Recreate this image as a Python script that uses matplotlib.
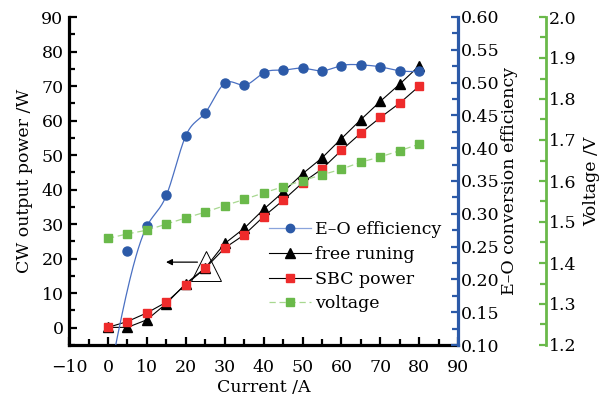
import numpy as np
import matplotlib
matplotlib.use("Agg")
import matplotlib.pyplot as plt
from matplotlib.ticker import MultipleLocator

# data
current = [0, 5, 10, 15, 20, 25, 30, 35, 40, 45, 50, 55, 60, 65, 70, 75, 80]
free_running = [0.1, 0.1, 2.3, 7.0, 12.8, 17.3, 24.4, 28.8, 34.3, 39.3, 44.6,
                49.2, 54.8, 60.3, 65.6, 70.6, 75.9]
sbc_power = [0.1, 1.8, 4.3, 7.4, 12.5, 17.2, 23.1, 26.9, 32.2, 36.9, 42.0,
             46.0, 51.4, 56.4, 60.9, 65.1, 70.0]
voltage = [1.460, 1.471, 1.480, 1.495, 1.510, 1.524, 1.540, 1.555, 1.571,
           1.586, 1.601, 1.615, 1.629, 1.646, 1.659, 1.674, 1.690]
eff_current = [5, 10, 15, 20, 25, 30, 35, 40, 45, 50, 55, 60, 65, 70, 75, 80]
efficiency = [0.244, 0.281, 0.328, 0.419, 0.454, 0.499, 0.496, 0.515, 0.519,
              0.522, 0.518, 0.526, 0.527, 0.524, 0.518, 0.517]
# start point of the smoothed efficiency curve (it skips the 5 A point)
curve_start = (0, 0.04)

BLUE = '#2c5aa8'
RED = '#ee2b2b'
GREEN = '#6ab94a'

plt.rcParams['font.family'] = 'DejaVu Serif'
plt.rcParams['font.size'] = 12.5
plt.rcParams['mathtext.fontset'] = 'dejavuserif'


def natural_spline(x, y, xs):
    x = np.asarray(x, float)
    y = np.asarray(y, float)
    n = len(x)
    h = np.diff(x)
    A = np.zeros((n, n))
    b = np.zeros(n)
    A[0, 0] = A[-1, -1] = 1
    for i in range(1, n - 1):
        A[i, i - 1] = h[i - 1]
        A[i, i] = 2 * (h[i - 1] + h[i])
        A[i, i + 1] = h[i]
        b[i] = 6 * ((y[i + 1] - y[i]) / h[i] - (y[i] - y[i - 1]) / h[i - 1])
    M = np.linalg.solve(A, b)
    idx = np.clip(np.searchsorted(x, xs) - 1, 0, n - 2)
    x0, x1 = x[idx], x[idx + 1]
    hh = x1 - x0
    t0 = x1 - xs
    t1 = xs - x0
    return (M[idx] * t0**3 / (6 * hh) + M[idx + 1] * t1**3 / (6 * hh)
            + (y[idx] / hh - M[idx] * hh / 6) * t0
            + (y[idx + 1] / hh - M[idx + 1] * hh / 6) * t1)


fig = plt.figure(figsize=(6.11, 4.0), dpi=100)
ax = fig.add_axes([0.113, 0.1375, 0.637, 0.82])
ax2 = ax.twinx()
ax3 = ax.twinx()
ax3.spines['right'].set_position(('axes', 1.226))

# power curves
l_free, = ax.plot(current, free_running, color='black', lw=0.8, marker='^',
                  ms=7.5, mfc='black', mec='black', label='free runing')
l_sbc, = ax.plot(current, sbc_power, color='black', lw=0.8, marker='s',
                 ms=5.5, mfc=RED, mec=RED, label='SBC power')

# annotation: big hollow triangle + arrow pointing to left axis
ax.plot([25.1], [18], marker='^', ms=22, mfc='none', mec='black', mew=0.7)
ax.annotate('', xy=(14.2, 19), xytext=(23.7, 19),
            arrowprops=dict(arrowstyle='-|>', color='black', lw=0.9,
                            mutation_scale=9))

# efficiency
cx = [curve_start[0]] + eff_current[1:]
cy = [curve_start[1]] + efficiency[1:]
xs = np.linspace(cx[0], cx[-1], 400)
ax2.plot(xs, natural_spline(cx, cy, xs), color='#4a70c2', lw=0.9)
ax2.plot(eff_current, efficiency, ls='none', marker='o', ms=6.5,
         mfc=BLUE, mec=BLUE)
l_eff, = ax2.plot([], [], color='#8aa4dc', lw=0.9, marker='o', ms=6,
                  mfc=BLUE, mec=BLUE, label='E\u2013O efficiency')

# voltage
l_volt, = ax3.plot(current, voltage, color='#a8d890', lw=0.9, ls=(0, (5, 3)),
                   marker='s', ms=5.5, mfc=GREEN, mec=GREEN, label='voltage')

ax.set_xlim(-10, 90)
ax.set_ylim(-5, 90)
ax2.set_ylim(0.10, 0.60)
ax3.set_ylim(1.2, 2.0)

ax.xaxis.set_major_locator(MultipleLocator(10))
ax.xaxis.set_minor_locator(MultipleLocator(5))
ax.yaxis.set_major_locator(MultipleLocator(10))
ax.yaxis.set_minor_locator(MultipleLocator(5))
ax2.yaxis.set_major_locator(MultipleLocator(0.05))
ax2.yaxis.set_minor_locator(MultipleLocator(0.025))
ax3.yaxis.set_major_locator(MultipleLocator(0.1))
ax3.yaxis.set_minor_locator(MultipleLocator(0.05))
ax.set_yticks(range(0, 91, 10))
ax2.yaxis.set_major_formatter(plt.FormatStrFormatter('%.2f'))
ax3.yaxis.set_major_formatter(plt.FormatStrFormatter('%.1f'))

for a in (ax, ax2, ax3):
    a.spines['top'].set_visible(False)

ax.spines['left'].set_linewidth(2.3)
ax.spines['bottom'].set_linewidth(2.3)
ax.spines['right'].set_visible(False)
ax2.spines['left'].set_visible(False)
ax2.spines['bottom'].set_visible(False)
ax2.spines['right'].set_color(BLUE)
ax2.spines['right'].set_linewidth(2.3)
ax3.spines['left'].set_visible(False)
ax3.spines['bottom'].set_visible(False)
ax3.spines['right'].set_color(GREEN)
ax3.spines['right'].set_linewidth(2.0)

ax.tick_params(axis='both', which='major', direction='in', length=6, width=1.6)
ax.tick_params(axis='both', which='minor', direction='in', length=4, width=1.6)
ax.tick_params(axis='x', pad=10)
ax.tick_params(axis='y', pad=4)
ax2.tick_params(axis='y', which='major', direction='in', length=5, width=1.6,
                color=BLUE, pad=2)
ax2.tick_params(axis='y', which='minor', direction='in', length=4, width=1.6,
                color=BLUE)
ax3.tick_params(axis='y', which='major', direction='in', length=5, width=1.6,
                color=GREEN, pad=2)
ax3.tick_params(axis='y', which='minor', direction='in', length=4, width=1.6,
                color=GREEN)

ax.set_xlabel('Current /A', labelpad=2)
ax.set_ylabel('CW output power /W', labelpad=6)
ax2.set_ylabel('E\u2013O conversion efficiency', labelpad=1)
ax3.set_ylabel('Voltage /V', labelpad=5)

ax3.legend(handles=[l_eff, l_free, l_sbc, l_volt], loc='upper left',
           bbox_to_anchor=(0.515, 0.378), frameon=False, borderpad=0,
           borderaxespad=0, handlelength=2.4, handletextpad=0.2,
           labelspacing=0.45)

fig.savefig('out.png', dpi=100)
